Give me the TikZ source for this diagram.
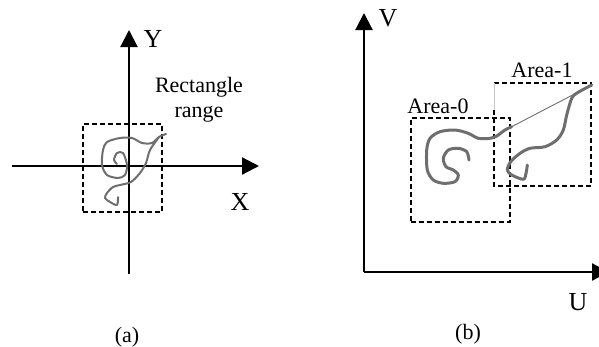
\documentclass[tikz,border=0pt]{standalone}
\usepackage{tikz}
\usepackage{xcolor}
\usepackage{fontspec}
\setmainfont{Liberation Serif}
\usetikzlibrary{arrows.meta}
\definecolor{TrackGray}{HTML}{6E6E6E}

\tikzset{
    axis/.style={line width=2.2pt, -{Triangle[length=17pt,width=17pt]}},
    rangebox/.style={draw, dash pattern=on 5pt off 3pt, line width=1.1pt},
    track/.style={draw=TrackGray, line join=round, line cap=round},
    lbl/.style={font=\fontsize{22}{25}\selectfont, inner sep=0pt},
    axlbl/.style={font=\fontsize{26}{30}\selectfont, inner sep=0pt}
}

\begin{document}
\begin{tikzpicture}[x=1pt, y=-1pt]
    \useasboundingbox (0,0) rectangle (599,346);

    % (a) the trajectory in the X-Y plane
    \coordinate (xa0) at (12,166);
    \coordinate (xa1) at (259,166);
    \coordinate (ya0) at (129,274);
    \coordinate (ya1) at (129,30);
    \draw[axis] (xa0) -- (xa1);
    \draw[axis] (ya0) -- (ya1);
    \node[axlbl] (ylab) at (153,39) {Y};
    \node[axlbl] (xlab) at (240,202) {X};
    \node[rangebox, minimum width=79pt, minimum height=88pt, inner sep=0pt] (rect) at (122.5,168) {};
    \node[lbl, align=center] (rectlab) at (199,100) {Rectangle\\range};
    \draw[track, line width=2pt] plot[smooth, tension=0.5] coordinates {
        (166,134) (159,137) (152,143) (142,143) (132,138) (120,138) (107,142)
        (103,150) (102,165) (107,175) (118,178) (125,175) (127,165) (123,153)
        (117,153) (114,160) (117,164)};
    \draw[track, line width=2pt] plot[smooth, tension=0.5] coordinates {
        (159,137) (150,150) (146,163) (140,173) (131,182) (120,185) (113,187)
        (107,193) (105,198) (110,202) (117,205) (118,197)};
    \node[lbl] (capa) at (127,337) {(a)};

    % (b) the trajectory in the U-V plane
    \coordinate (org) at (364,272);
    \coordinate (ub1) at (609,272);
    \coordinate (vb1) at (364,13);
    \draw[axis] (org) -- (ub1);
    \draw[axis] (org) -- (vb1);
    \node[axlbl] (vlab) at (388,18) {V};
    \node[axlbl] (ulab) at (578,302) {U};
    \node[rangebox, minimum width=99pt, minimum height=104pt, inner sep=0pt] (area0) at (460.5,170) {};
    \draw[rangebox] (494,110) |- (591,186) |- (494,83);
    \draw[gray!45, line width=0.6pt] (494,83) -- (494,110);
    \node[lbl] (area0lab) at (438,106) {Area-0};
    \node[lbl] (area1lab) at (542,70) {Area-1};
    \draw[track, line width=3pt] plot[smooth, tension=0.5] coordinates {
        (469,160) (466.7,151.7) (458.3,148.3) (448.3,150) (443.3,158.3) (446,166.7)
        (453.3,170) (458.3,175) (455,181.7) (443.3,183.3) (433.3,180) (427.3,170)
        (426.7,150) (430,138.3) (440,131.7) (455,130) (468.3,133.3) (478.3,138.3)
        (490,138.3) (496.7,136) (505,130) (511.7,126.7)};
    \draw[TrackGray, line width=0.9pt] (511.7,126.7) -- (591.7,85);
    \draw[track, line width=3pt] plot[smooth, tension=0.5] coordinates {
        (591.7,85) (577,93) (571.7,98.3) (566.7,115) (563.3,130) (556.7,140)
        (545,146.7) (530,148.3) (520,153.3) (510.7,161.7) (507.3,170) (511.7,175)
        (523.3,179.3) (526,173.3) (527.3,165)};
    \node[lbl] (capb) at (468,334) {(b)};
\end{tikzpicture}
\end{document}
